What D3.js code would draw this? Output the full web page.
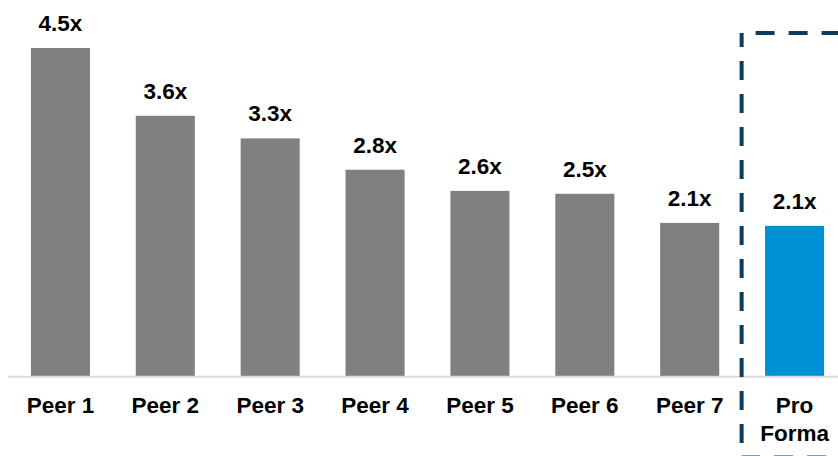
<!DOCTYPE html>
<html>
<head>
<meta charset="utf-8">
<script src="https://cdn.jsdelivr.net/npm/d3@7"></script>
<style>
html,body{margin:0;padding:0;background:#fff;}
svg{display:block;}
text{font-family:"Liberation Sans",Arial,sans-serif;font-weight:bold;fill:#000;}
</style>
</head>
<body>
<svg id="chart" width="838" height="456"></svg>
<script>
const categories = ["Peer 1","Peer 2","Peer 3","Peer 4","Peer 5","Peer 6","Peer 7","Pro Forma"];
const values = [4.5, 3.57, 3.26, 2.83, 2.54, 2.50, 2.10, 2.06];
const valueLabels = ["4.5x","3.6x","3.3x","2.8x","2.6x","2.5x","2.1x","2.1x"];
const highlight = "Pro Forma";

const W = 838, H = 456;
const baseY = 376;
const svg = d3.select("#chart");

const x = d3.scaleBand().domain(categories).range([8, 847]).paddingInner(0.437).paddingOuter(0.2185);
const y = d3.scaleLinear().domain([0, 4.5]).range([baseY, 48]);

// bars
svg.selectAll("rect.bar").data(categories).enter().append("rect")
  .attr("class","bar")
  .attr("x", d => x(d))
  .attr("width", x.bandwidth())
  .attr("y", (d,i) => y(values[i]))
  .attr("height", (d,i) => baseY - y(values[i]))
  .attr("fill", d => d === highlight ? "#0091d5" : "#808080");

// axis baseline
svg.append("line").attr("x1", 8).attr("x2", W).attr("y1", baseY + 0.8).attr("y2", baseY + 0.8)
  .attr("stroke", "#d9d9d9").attr("stroke-width", 2);

// value labels
svg.selectAll("text.val").data(categories).enter().append("text")
  .attr("class","val")
  .attr("x", d => x(d) + x.bandwidth()/2)
  .attr("y", (d,i) => y(values[i]) - 17)
  .attr("text-anchor","middle")
  .style("font-size","22.5px")
  .text((d,i) => valueLabels[i]);

// category labels
const cat = svg.selectAll("text.cat").data(categories).enter().append("text")
  .attr("class","cat")
  .attr("text-anchor","middle")
  .style("font-size","22.5px")
  .attr("x", d => x(d) + x.bandwidth()/2)
  .attr("y", 413);
cat.each(function(d){
  const words = d === highlight ? d.split(" ") : [d];
  const t = d3.select(this);
  words.forEach((w,i) => {
    t.append("tspan").attr("x", x(d) + x.bandwidth()/2).attr("dy", i === 0 ? 0 : 28).text(w);
  });
});

// dashed highlight box
const bx = x(highlight) - (x.step() - x.bandwidth())/2 - 0.5;
svg.append("rect")
  .attr("x", bx).attr("y", 33)
  .attr("width", 200).attr("height", 424.5)
  .attr("fill","none")
  .attr("stroke","#0d3b5e").attr("stroke-width", 4)
  .attr("stroke-dasharray","19 14")
  .attr("stroke-dashoffset", -14);
</script>
</body>
</html>
